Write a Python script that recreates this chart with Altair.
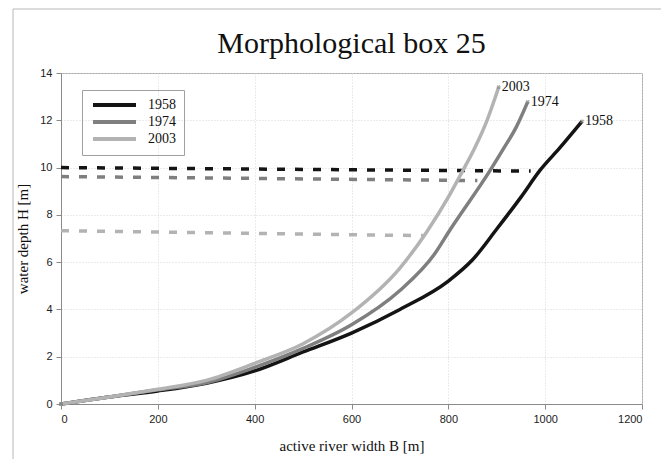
import altair as alt
import pandas as pd

# ---- data ----
b_1958 = [0, 100, 200, 300, 400, 500, 600, 700, 800, 850, 900, 950, 990, 1031, 1076]
h_1958 = [0, 0.3, 0.55, 0.88, 1.4, 2.2, 3.0, 4.0, 5.2, 6.1, 7.4, 8.75, 9.9, 10.85, 11.95]

b_1974 = [0, 100, 200, 300, 400, 500, 600, 700, 770, 803, 886, 913, 940, 964]
h_1974 = [0, 0.3, 0.6, 0.9, 1.55, 2.35, 3.35, 4.8, 6.3, 7.35, 9.87, 10.77, 11.7, 12.78]

b_2003 = [0, 100, 200, 300, 400, 500, 600, 700, 756, 800, 828, 855, 880, 904]
h_2003 = [0, 0.3, 0.62, 1.0, 1.72, 2.55, 3.85, 5.75, 7.3, 8.75, 9.8, 10.85, 12.0, 13.4]

# dashed reference levels (start, end)
dash_series = ["1958", "1974", "2003"]
dash_b = [[0, 970], [0, 860], [0, 750]]
dash_h = [[10.0, 9.85], [9.62, 9.45], [7.33, 7.12]]

series = ["1958", "1974", "2003"]
colors = ["#141414", "#7f7f7f", "#b3b3b3"]

curves = []
for s, bs, hs in zip(series, [b_1958, b_1974, b_2003], [h_1958, h_1974, h_2003]):
    for i, (b, h) in enumerate(zip(bs, hs)):
        curves.append({"series": s, "B": b, "H": h, "order": i})
curves = pd.DataFrame(curves)

dashes = []
for s, bs, hs in zip(dash_series, dash_b, dash_h):
    for i, (b, h) in enumerate(zip(bs, hs)):
        dashes.append({"series": s, "B": b, "H": h, "order": i})
dashes = pd.DataFrame(dashes)

ends = curves.sort_values("order").groupby("series").tail(1)
starts = curves[curves["order"] == 0]
markers = pd.concat([starts, ends])

xs = alt.Scale(domain=[0, 1200], nice=False)
ys = alt.Scale(domain=[0, 14], nice=False)
cs = alt.Scale(domain=series, range=colors)

x_enc = alt.X("B:Q", scale=xs, title="active river width B [m]",
              axis=alt.Axis(values=[0, 200, 400, 600, 800, 1000, 1200], format="d"))
y_enc = alt.Y("H:Q", scale=ys, title="water depth H [m]",
              axis=alt.Axis(values=[0, 2, 4, 6, 8, 10, 12, 14], format="d"))

legend = alt.Legend(orient="none", legendX=21, legendY=17,
                    symbolType="M-1,0H9.75", symbolStrokeWidth=4,
                    symbolSize=64, labelFont="Liberation Serif",
                    labelFontSize=14, labelColor="#111",
                    strokeColor="#a0a0a0", padding=8,
                    rowPadding=1, labelOffset=44)
color_enc = alt.Color("series:N", scale=cs, title=None, legend=legend)

frame = alt.Chart(pd.DataFrame({"a": [0]})).mark_rect(
    fill=None, stroke="#b8b8b8", strokeWidth=1, clip=False
).encode(x=alt.value(-48), x2=alt.value(700), y=alt.value(-64), y2=alt.value(500))

dash_layer = alt.Chart(dashes).mark_line(strokeWidth=3.5, strokeDash=[8, 10]).encode(
    x=x_enc, y=y_enc, detail="series:N", order="order:Q", color=color_enc,
)

line_layer = alt.Chart(curves).mark_line(strokeWidth=3.5, interpolate="monotone").encode(
    x=x_enc, y=y_enc, order="order:Q", color=color_enc,
)

marker_layer = alt.Chart(markers).mark_point(
    shape="cross", angle=45, size=18, filled=True, color="#888"
).encode(x=x_enc, y=y_enc)

label_layer = alt.Chart(ends).mark_text(
    align="left", baseline="middle", dx=3, font="Liberation Serif", fontSize=14, color="#111"
).encode(x=x_enc, y=y_enc, text="series:N")

chart = alt.layer(frame, dash_layer, line_layer, marker_layer, label_layer).properties(
    width=581, height=331,
    title=alt.TitleParams("Morphological box 25", font="Liberation Serif", fontSize=30,
                          fontWeight="normal", color="#111", anchor="middle", offset=0,
                          baseline="alphabetic", dy=74, frame="group"),
    padding={"left": 61, "top": 73, "right": 19, "bottom": 55},
    autosize=alt.AutoSizeParams(type="none"),
).configure_view(stroke="#a8a8a8", strokeWidth=1).configure_axis(
    labelFont="Liberation Sans", labelFontSize=11, labelColor="#222",
    titleFont="Liberation Serif", titleFontSize=15, titleFontWeight="normal", titleColor="#111",
    domainColor="#8a8a8a", tickColor="#8a8a8a", tickSize=5,
    gridColor="#d6d6d6", gridDash=[1, 2], gridWidth=1,
).configure_axisX(labelPadding=4, titlePadding=14).configure_axisY(labelPadding=4, titlePadding=9)

chart.save("out.html", embed_options={"renderer": "svg", "actions": False})
